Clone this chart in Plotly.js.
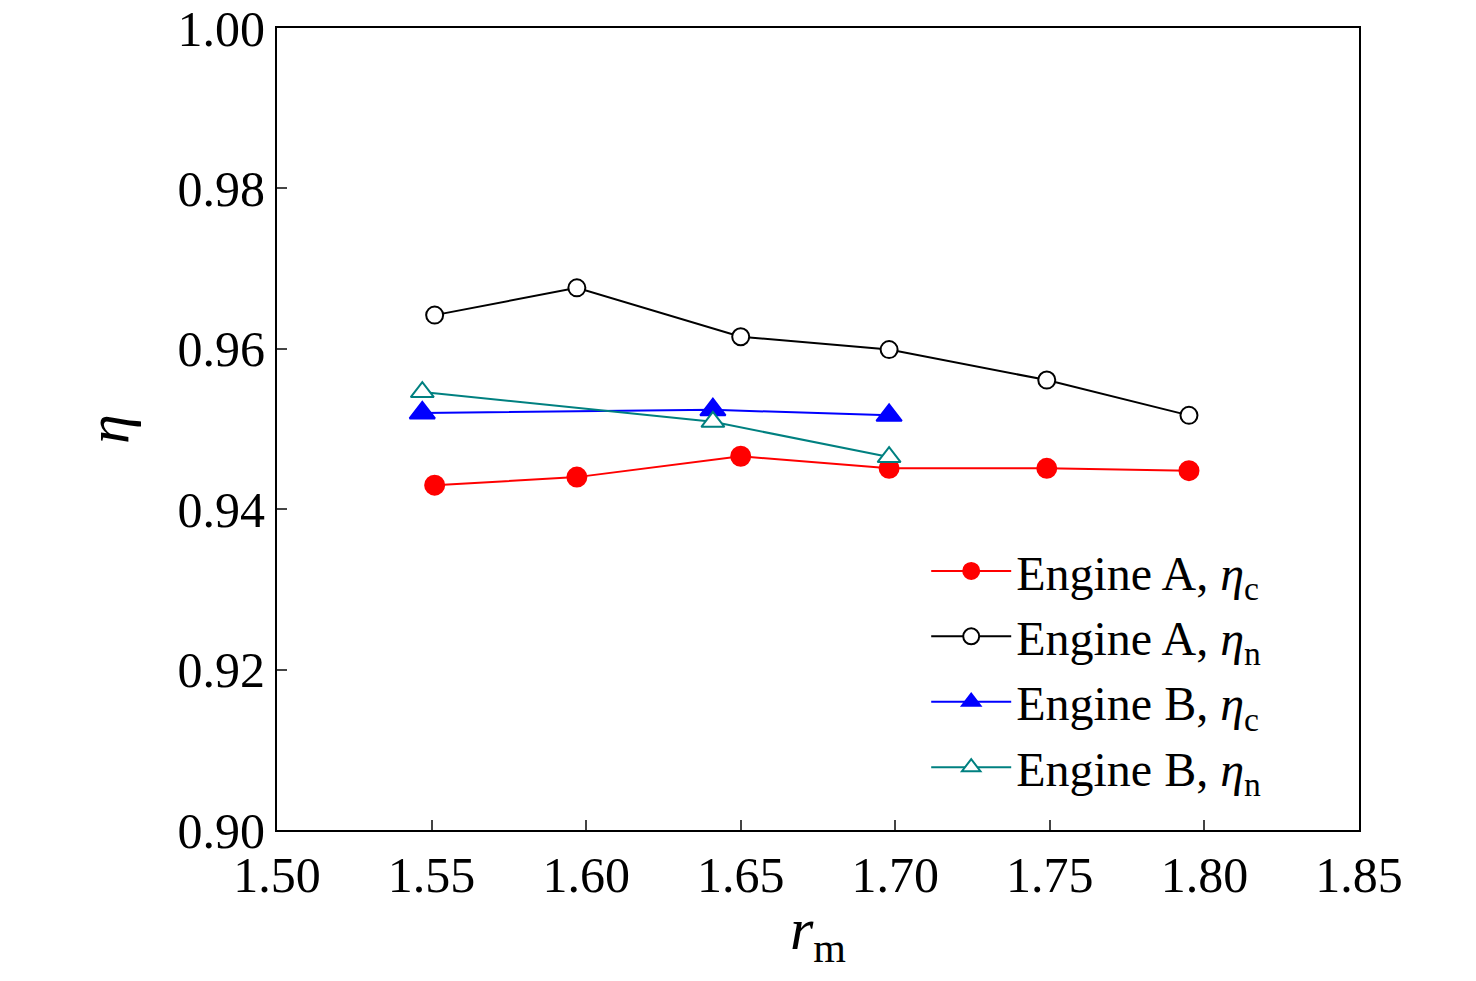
<!DOCTYPE html>
<html><head><meta charset="utf-8">
<script src="https://cdn.plot.ly/plotly-3.0.1.min.js"></script>
<style>body{margin:0}#plot{width:1476px;height:981px}</style>
</head><body><div id="plot"></div>
<script>
const xA = [1.551, 1.597, 1.650, 1.698, 1.749, 1.795]
const aEtaC = [0.9430, 0.9440, 0.9466, 0.9451, 0.9451, 0.9448]
const aEtaN = [0.9642, 0.9676, 0.9615, 0.9599, 0.9561, 0.9517]
const xB = [1.547, 1.641, 1.698]
const bEtaC = [0.9520, 0.9524, 0.9517]
const bEtaN = [0.9546, 0.9509, 0.9465]

function tr(x, y, name, color, symbol, hollow, size) {
  return {x: x, y: y, name: name, type: 'scatter', mode: 'lines+markers',
    line: {color: color, width: 2},
    marker: {symbol: symbol, size: size, color: hollow ? 'white' : color,
      line: {color: color, width: 2}}}
}
const data = [
  tr(xA, aEtaC, 'Engine A, <i>η</i><sub>c</sub>', 'red', 'circle', false, 19),
  tr(xA, aEtaN, 'Engine A, <i>η</i><sub>n</sub>', 'black', 'circle', true, 17),
  tr(xB, bEtaC, 'Engine B, <i>η</i><sub>c</sub>', 'blue', 'triangle-up', false, 22),
  tr(xB, bEtaN, 'Engine B, <i>η</i><sub>n</sub>', '#008080', 'triangle-up', true, 20)
]
const ax = {showline: true, mirror: true, linecolor: 'black', linewidth: 2,
  ticks: 'inside', ticklen: 10, tickwidth: 2, showgrid: false, zeroline: false}
const layout = {
  font: {family: 'Liberation Serif, Times New Roman, serif', size: 50, color: 'black'},
  margin: {l: 277, r: 117, t: 28, b: 151},
  paper_bgcolor: 'white', plot_bgcolor: 'white',
  xaxis: Object.assign({range: [1.5, 1.85], dtick: 0.05, tickformat: '.2f',
    title: {text: '<i>r</i><sub>m</sub>', standoff: 5}}, ax),
  yaxis: Object.assign({range: [0.9, 1.0], dtick: 0.02, tickformat: '.2f',
    title: {text: '<i>η</i>', standoff: 30}}, ax),
  legend: {x: 0.6, y: 0.37, xanchor: 'left', yanchor: 'top', bgcolor: 'rgba(0,0,0,0)',
    font: {size: 48}, itemwidth: 80, tracegroupgap: 0}
}
Plotly.newPlot('plot', data, layout, {displayModeBar: false})
</script></body></html>
